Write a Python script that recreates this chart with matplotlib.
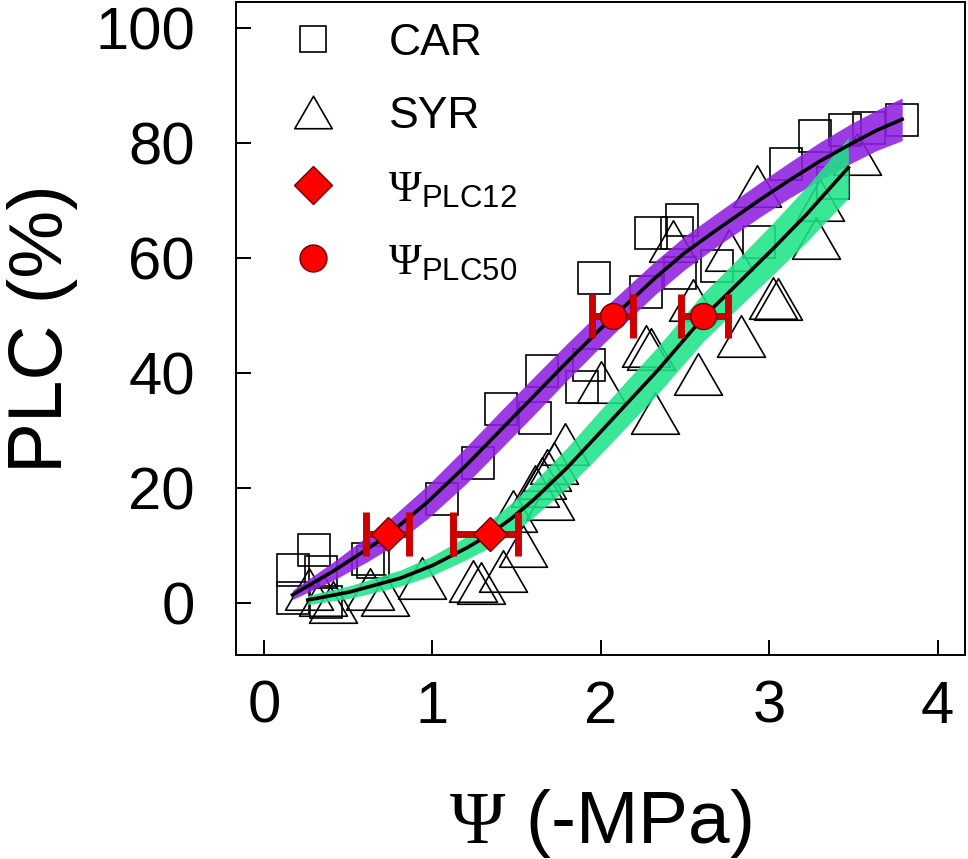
import matplotlib
matplotlib.use("Agg")
import matplotlib.pyplot as plt
from matplotlib.lines import Line2D
from matplotlib.path import Path

# open symbols: raw PLC measurements
car_psi = [0.17, 0.17, 0.30, 0.34, 0.37, 0.62, 0.65, 1.06, 1.27, 1.41, 1.61, 1.65, 1.89, 1.93,
           1.96, 2.27, 2.30, 2.45, 2.48, 2.47, 2.69, 2.94, 3.10, 3.27, 3.38, 3.45, 3.59, 3.79]
car_plc = [1.0, 5.8, 9.3, 5.5, 0.2, 7.8, 7.2, 18.2, 24.4, 33.9, 32.3, 40.5, 37.6, 41.5,
           56.6, 54.1, 64.5, 64.4, 66.6, 57.5, 58.7, 62.8, 76.4, 81.3, 73.1, 82.4, 82.6, 84.1]
syr_psi = [0.27, 0.35, 0.41, 0.63, 0.72, 0.94, 1.24, 1.29, 1.42, 1.54, 1.48, 1.61, 1.65, 1.68,
           1.72, 1.70, 1.79, 2.00, 2.27, 2.30, 2.32, 2.43, 2.55, 2.58, 2.76, 2.83, 2.93, 3.02,
           3.05, 3.28, 3.30, 3.52]
syr_plc = [2.5, 1.5, 0.3, 2.6, 1.5, 4.5, 3.9, 3.6, 5.6, 10.0, 16.1, 20.4, 21.9, 23.2,
           24.5, 18.1, 27.7, 38.5, 44.7, 44.3, 33.2, 63.1, 52.7, 39.9, 61.5, 46.5, 72.6, 53.2,
           53.0, 63.6, 70.2, 78.2]

# fitted curves with confidence bands
car_x = [0.17, 0.41, 0.61, 0.74, 0.97, 1.20, 1.40, 1.60, 1.80, 2.00, 2.08, 2.33, 2.50, 2.68,
         2.95, 3.12, 3.30, 3.49, 3.64, 3.79]
car_y = [1.5, 5.6, 9.4, 12.0, 17.6, 24.0, 30.0, 36.0, 42.0, 47.8, 50.0, 56.8, 61.0, 64.8,
         70.3, 73.6, 76.9, 80.0, 82.3, 84.2]
car_lo = [0.7, 4.0, 7.2, 9.5, 14.7, 20.8, 26.7, 32.7, 38.8, 44.7, 47.0, 53.9, 58.1, 61.9,
          67.3, 70.5, 73.6, 76.6, 78.8, 80.5]
car_hi = [2.3, 7.2, 11.6, 14.5, 20.5, 27.2, 33.3, 39.3, 45.2, 50.9, 53.0, 59.7, 63.9, 67.7,
          73.3, 76.7, 80.2, 83.5, 85.8, 87.9]
syr_x = [0.26, 0.51, 0.81, 1.00, 1.20, 1.34, 1.47, 1.60, 1.80, 1.96, 2.15, 2.34, 2.61, 2.83,
         3.02, 3.22, 3.47]
syr_y = [0.6, 2.0, 4.4, 6.6, 9.6, 12.0, 14.8, 18.0, 23.6, 28.6, 34.6, 40.6, 49.8, 56.1,
         61.6, 67.6, 75.8]
syr_lo = [-0.2, 0.9, 3.0, 4.9, 7.6, 9.7, 12.1, 15.0, 20.1, 24.8, 30.6, 36.5, 45.6, 51.8,
          57.1, 62.8, 70.5]
syr_hi = [1.4, 3.1, 5.8, 8.3, 11.6, 14.3, 17.5, 21.0, 27.1, 32.4, 38.6, 44.7, 54.0, 60.4,
          66.1, 72.4, 81.0]

# Psi_PLC12 / Psi_PLC50 with asymmetric errors (CAR, SYR)
psi12 = [0.738, 1.345]
plc12 = [12, 12]
psi12_lo = [0.134, 0.222]
psi12_hi = [0.123, 0.165]
psi50 = [2.075, 2.610]
plc50 = [50, 50]
psi50_lo = [0.125, 0.136]
psi50_hi = [0.118, 0.147]

plt.rcParams['font.family'] = ['Liberation Sans', 'DejaVu Sans']
plt.rcParams['mathtext.fontset'] = 'custom'
plt.rcParams['mathtext.rm'] = 'Liberation Serif'
plt.rcParams['mathtext.sf'] = 'Liberation Sans'
plt.rcParams['mathtext.it'] = 'Liberation Serif:italic'

# equilateral-ish open triangle, closed outline
tri = Path([(-1, -0.866), (1, -0.866), (0, 0.866), (-1, -0.866)],
           [Path.MOVETO, Path.LINETO, Path.LINETO, Path.CLOSEPOLY])
err_col = '#CC0000'

fig = plt.figure(figsize=(9.68, 8.59), dpi=100)
ax = fig.add_axes([0.2438, 0.2375, 0.7531, 0.7602])

ax.plot(car_psi, car_plc, ls='none', marker='s', ms=23, mfc='none', mec='k', mew=1.2, zorder=1)
ax.plot(syr_psi, syr_plc, ls='none', marker=tri, ms=34.5, mfc='none', mec='k', mew=1.2, zorder=1)

ax.fill_between(car_x, car_lo, car_hi, color='#8F1FE0', alpha=0.88, lw=0, zorder=2)
ax.fill_between(syr_x, syr_lo, syr_hi, color='#1EE488', alpha=0.88, lw=0, zorder=2)
ax.plot(car_x, car_y, c='k', lw=2.6, zorder=3)
ax.plot(syr_x, syr_y, c='k', lw=2.6, zorder=3)

ax.errorbar(psi12, plc12, xerr=[psi12_lo, psi12_hi], fmt='none', ecolor=err_col,
            elinewidth=5, capsize=15.5, capthick=5, zorder=4)
ax.errorbar(psi50, plc50, xerr=[psi50_lo, psi50_hi], fmt='none', ecolor=err_col,
            elinewidth=5, capsize=15.5, capthick=5, zorder=4)
ax.plot(psi12, plc12, ls='none', marker='D', ms=17.3, mfc='#FF0000', mec='#700000', mew=1, zorder=5)
ax.plot(psi50, plc50, ls='none', marker='o', ms=18.7, mfc='#FF0000', mec='#700000', mew=1, zorder=5)

ax.set_xlim(-0.166, 4.163)
ax.set_ylim(-8.96, 104.6)
ax.set_xticks([0, 1, 2, 3, 4])
ax.set_yticks([0, 20, 40, 60, 80, 100])
ax.tick_params(direction='in', length=10.8, width=1.4, labelsize=43)
ax.tick_params(axis='y', pad=29.5)
ax.tick_params(axis='x', pad=18)
for sp in ax.spines.values():
    sp.set_linewidth(1.4)

ax.set_ylabel('PLC (%)', fontsize=55)
ax.yaxis.set_label_coords(-0.2167, 0.5)
ax.set_xlabel(r'$\Psi$ (-MPa)', fontsize=54)
ax.xaxis.set_label_coords(0.5, -0.202)

handles = [
    Line2D([], [], ls='none', marker='s', ms=19.4, mfc='none', mec='k', mew=1.2),
    Line2D([], [], ls='none', marker=tri, ms=27, mfc='none', mec='k', mew=1.2),
    Line2D([], [], ls='none', marker='D', ms=19.3, mfc='#FF0000', mec='#700000', mew=1),
    Line2D([], [], ls='none', marker='o', ms=19.4, mfc='#FF0000', mec='#700000', mew=1),
]
labels = ['CAR', 'SYR', r'$\Psi_{\mathsf{PLC12}}$', r'$\Psi_{\mathsf{PLC50}}$']
ax.legend(handles, labels, loc='upper left', bbox_to_anchor=(0.075, 0.968), frameon=False,
          fontsize=32, handlelength=1.0, handletextpad=1.2, labelspacing=0.72,
          borderpad=0, borderaxespad=0)

fig.savefig('out.png', dpi=100)
